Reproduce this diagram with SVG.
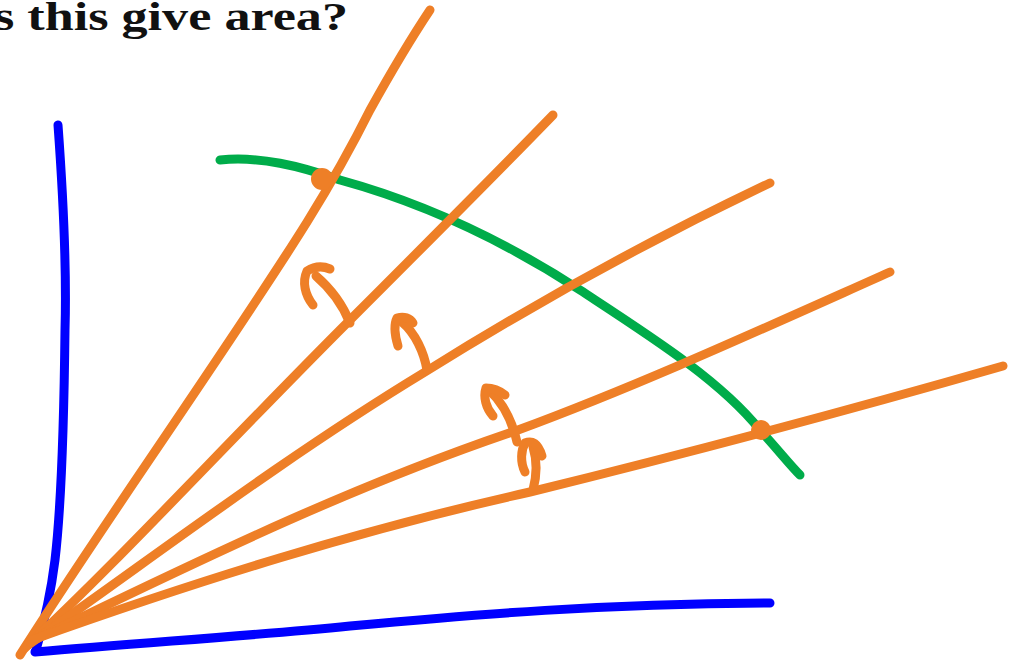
<svg xmlns="http://www.w3.org/2000/svg" width="1011" height="671" viewBox="0 0 1011 671">
<style>
.o{fill:none;stroke:#ee7f27;stroke-width:9;stroke-linecap:round;stroke-linejoin:round}
.b{fill:none;stroke:#0000ff;stroke-width:9;stroke-linecap:round;stroke-linejoin:round}
.g{fill:none;stroke:#00ac4a;stroke-width:9;stroke-linecap:round;stroke-linejoin:round}
.d{fill:#ee7f27}
.t{font-family:"Liberation Serif",serif;font-weight:bold;font-size:41px;fill:#111}
</style>
<rect width="1011" height="671" fill="#fff"/>
<text class="t" x="348" y="30" text-anchor="end" textLength="354" lengthAdjust="spacingAndGlyphs">s this give area?</text>
<g id="axes">
<path class="b" d="M58,125 C62,180 67,260 65,330 C64,420 62,500 55,560 C50,600 42,630 36,650"/>
<path class="b" d="M35,652 C150,642 250,636 350,626 C480,614 600,604 770,603"/>
</g>
<path id="curve" class="g" d="M220,160 C260,156 300,166 340,180 C420,202 500,238 580,290 C650,336 720,380 760,430 C780,452 790,465 800,475"/>
<g id="rays">
<path class="o" d="M20,655 C80,560 150,460 230,340 C290,250 330,190 370,110 C395,65 410,40 430,10"/>
<path class="o" d="M25,648 C120,560 220,450 350,320 C430,240 490,180 553,115"/>
<path class="o" d="M28,645 C150,560 280,460 425,372 C540,300 650,240 770,183"/>
<path class="o" d="M30,642 C180,570 340,490 518,430 C640,385 760,330 890,272"/>
<path class="o" d="M32,640 C200,580 360,530 530,492 C680,455 850,410 1003,366"/>
</g>
<g id="arrows">
<path class="o" d="M350,323 C342,303 330,288 316,276"/>
<path class="o" d="M313,305 C305,295 302,282 307,271 C315,266 323,266 330,269"/>
<path class="o" d="M427,370 C424,352 415,333 402,322"/>
<path class="o" d="M398,346 C395,336 393,326 397,318 C404,316 410,318 413,323"/>
<path class="o" d="M517,442 C512,420 502,402 489,390"/>
<path class="o" d="M493,416 C486,408 483,397 486,388 C494,388 500,391 505,395"/>
<path class="o" d="M533,490 C537,475 537,460 533,447"/>
<path class="o" d="M525,472 C520,462 521,450 525,443 C532,440 538,443 542,456"/>
</g>
<g id="points">
<circle class="d" cx="322" cy="179" r="11"/>
<circle class="d" cx="761" cy="430" r="10"/>
</g>
</svg>
